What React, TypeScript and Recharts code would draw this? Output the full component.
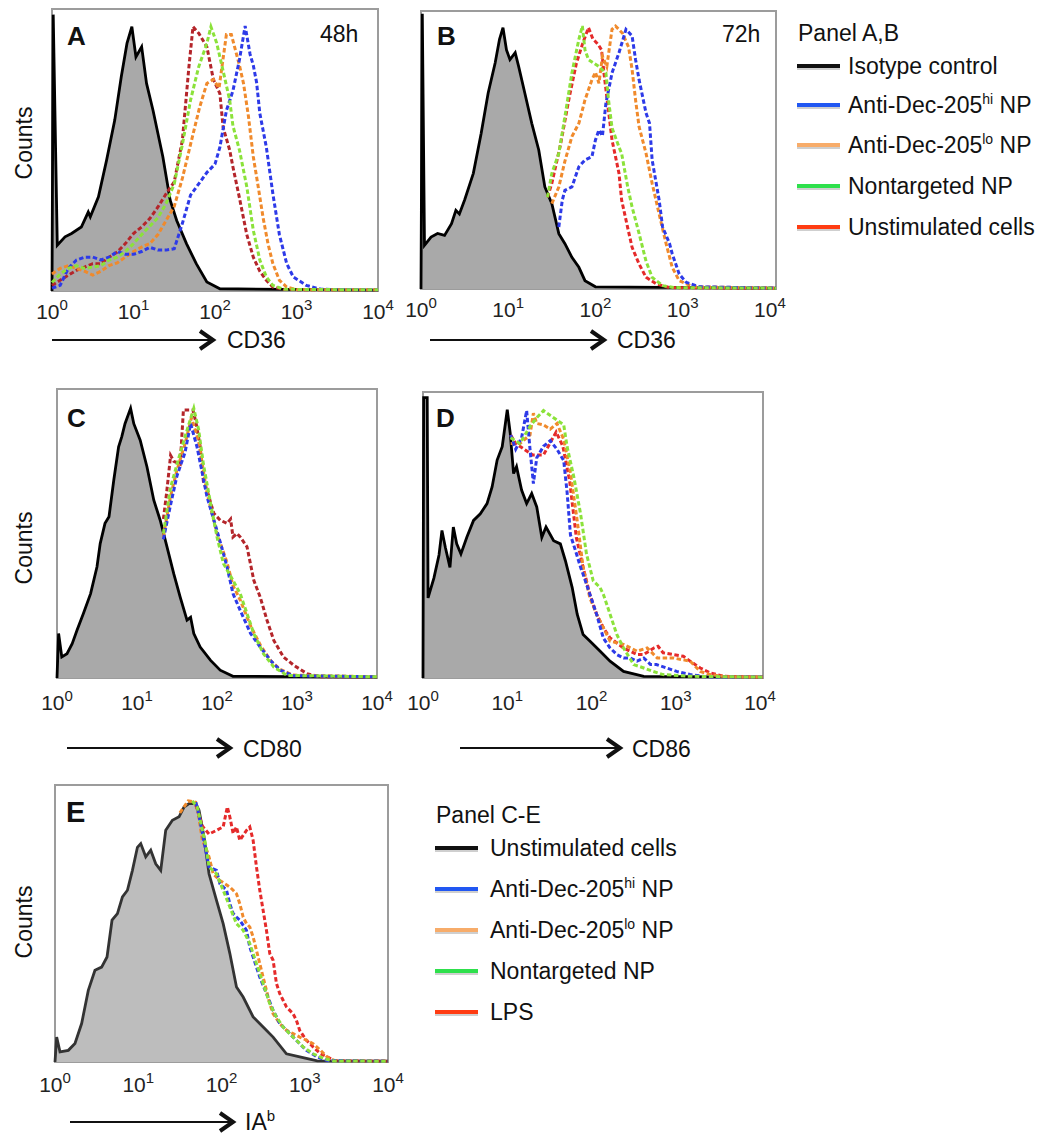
import React from 'react';
import { ComposedChart, Line, Area, XAxis, YAxis, ReferenceArea } from 'recharts';

type Pt = [number, number];

// x = log10 fluorescence, y = relative counts (% of box height)
// ---------- Panel A (CD36, 48h) ----------
const aIsotype: Pt[] = [[0,0],[0.015,98],[0.065,16.2],[0.16,19.2],[0.24,20.4],[0.36,22.7],[0.445,28],[0.47,26.3],[0.57,33.4],[0.67,46.4],[0.77,60.6],[0.85,76],[0.92,87.8],[0.98,93.7],[1.03,83],[1.1,86.6],[1.16,73.6],[1.24,64],[1.36,47.6],[1.45,32.2],[1.53,25],[1.65,16.8],[1.77,9.7],[1.9,3.2],[2.06,0.8],[4,0.3]];
const aHi: Pt[] = [[0,1],[0.1,2],[0.2,8],[0.3,11],[0.4,12],[0.5,12],[0.6,11],[0.7,12],[0.8,14],[0.9,13],[1,13],[1.1,14],[1.2,15.5],[1.3,14.5],[1.4,14.5],[1.5,15],[1.6,24],[1.7,34],[1.8,38],[1.9,42],[2,45],[2.06,51],[2.14,64],[2.22,71],[2.3,82],[2.37,94],[2.43,84],[2.47,80],[2.51,74],[2.55,63],[2.63,51],[2.71,34.5],[2.79,20],[2.88,9.7],[2.96,5],[3.12,2],[3.3,0.6],[4,0.4]];
const aLo: Pt[] = [[0,6],[0.1,8],[0.2,9],[0.3,8],[0.4,7],[0.5,5.6],[0.6,7],[0.7,9],[0.8,10],[0.9,12],[1,14],[1.1,15.6],[1.2,16.8],[1.3,20],[1.4,25],[1.5,30],[1.6,40],[1.7,52],[1.81,65],[1.9,73.6],[1.98,75],[2.05,72],[2.14,91],[2.2,91],[2.3,80],[2.35,73.6],[2.41,62],[2.47,47.6],[2.53,37],[2.59,26],[2.65,16.8],[2.71,9.7],[2.79,3.8],[2.88,1.4],[3,0.5],[4,0.4]];
const aNon: Pt[] = [[0,3],[0.1,6],[0.2,8],[0.3,9],[0.4,8],[0.5,8.5],[0.6,9],[0.7,11],[0.8,12],[0.9,14],[1,16.8],[1.1,20],[1.2,23],[1.3,26],[1.4,31],[1.5,38],[1.6,52],[1.7,67.7],[1.8,79.5],[1.9,87.8],[1.95,93.7],[2.02,88],[2.1,78],[2.18,67.7],[2.22,58.6],[2.3,50],[2.39,37],[2.47,21.5],[2.55,11],[2.63,5],[2.71,2],[2.85,0.6],[4,0.4]];
const aUnstim: Pt[] = [[0,2],[0.1,3.8],[0.2,5.6],[0.3,7.3],[0.4,8.5],[0.5,9.7],[0.6,9.7],[0.7,12],[0.8,13.8],[0.9,16.8],[1,20.4],[1.1,22.7],[1.2,25.7],[1.3,29.8],[1.4,34.5],[1.5,38.7],[1.6,53.5],[1.68,79.5],[1.73,93.7],[1.8,91.4],[1.9,86.6],[1.98,75],[2.06,70],[2.1,58],[2.18,50],[2.22,44],[2.3,33],[2.39,20],[2.47,12],[2.55,7],[2.63,3.8],[2.71,1.4],[2.85,0.5],[4,0.4]];

// ---------- Panel B (CD36, 72h) ----------
const bIsotype: Pt[] = [[0,0],[0.015,99],[0.04,15.7],[0.115,18.7],[0.19,20],[0.27,19.3],[0.35,23.5],[0.4,28.3],[0.44,27],[0.5,32],[0.6,41.6],[0.69,56],[0.77,70.5],[0.85,81.3],[0.9,89.8],[0.94,94],[0.98,86],[1.02,82.5],[1.08,85],[1.12,80],[1.19,70.5],[1.27,59.6],[1.35,50],[1.42,36.7],[1.5,30.7],[1.58,19.9],[1.65,16.3],[1.73,11.4],[1.81,7.8],[1.88,3],[2,0.8],[4.07,0.3]];
const bHi: Pt[] = [[1.58,22.3],[1.62,32],[1.65,35.5],[1.73,36.7],[1.81,44],[1.88,46.4],[1.96,47.6],[2,53.6],[2.04,57.2],[2.08,55],[2.12,66.8],[2.19,77.7],[2.27,85],[2.35,93.4],[2.42,91],[2.46,82.5],[2.5,75.3],[2.58,63.3],[2.62,59.6],[2.65,46.4],[2.73,32],[2.77,22.3],[2.85,16.3],[2.88,12.7],[2.96,5.4],[3.04,2.4],[3.19,0.8],[4.07,0.3]];
const bLo: Pt[] = [[1.5,30.7],[1.58,36.7],[1.65,46],[1.73,54.8],[1.81,59.6],[1.88,68],[1.96,75.3],[2,78],[2.04,74],[2.08,83.7],[2.13,80],[2.19,93.4],[2.23,94.6],[2.31,92],[2.38,87],[2.42,79],[2.46,68],[2.5,58.4],[2.58,48.8],[2.65,38],[2.73,27],[2.81,16.3],[2.88,7.8],[2.96,3],[3.12,0.8],[4.07,0.3]];
const bNon: Pt[] = [[1.45,33],[1.5,41.6],[1.58,48.8],[1.65,62],[1.73,77.7],[1.81,89.8],[1.85,94.6],[1.88,86],[1.92,82.5],[2.04,80],[2.12,77.7],[2.15,68],[2.19,58],[2.27,51],[2.3,48.8],[2.37,36.7],[2.42,29.5],[2.5,20],[2.58,10],[2.65,4.2],[2.77,1.2],[2.9,0.5],[4.07,0.3]];
const bUnstim: Pt[] = [[1.45,33],[1.5,38],[1.6,52],[1.7,69],[1.78,81],[1.85,88],[1.92,94],[1.97,90],[2.03,88],[2.07,86],[2.1,77],[2.15,64],[2.19,53.6],[2.23,47.6],[2.27,41.6],[2.3,32],[2.37,22],[2.42,15],[2.5,9],[2.58,4.2],[2.7,1.8],[2.85,0.5],[4.07,0.3]];

// ---------- Panel C (CD80) ----------
const cIsotype: Pt[] = [[0,0],[0.02,15.4],[0.06,7.3],[0.125,8.4],[0.19,11.9],[0.25,16.5],[0.33,22.3],[0.42,29.2],[0.5,38.5],[0.54,46.5],[0.6,53.5],[0.65,55.8],[0.71,68.5],[0.77,80],[0.81,83.5],[0.85,88],[0.92,93.3],[0.96,88],[1.04,82.3],[1.125,73],[1.21,61.5],[1.29,54.6],[1.375,45.4],[1.46,36],[1.54,28],[1.625,20],[1.67,21],[1.71,15.4],[1.79,10.7],[1.92,6.1],[2.04,2.7],[2.2,0.6],[4,0.3]];
const cHi: Pt[] = [[1.33,48],[1.42,60],[1.5,70],[1.6,78],[1.67,88],[1.75,80],[1.875,62.7],[2,51],[2.125,38.5],[2.2,29.2],[2.29,23.4],[2.42,15.4],[2.54,10.7],[2.67,6],[2.79,2.7],[2.95,0.8],[4,0.4]];
const cLo: Pt[] = [[1.33,49],[1.42,63],[1.5,72],[1.6,81],[1.68,90],[1.77,82],[1.875,64],[2,50],[2.125,40],[2.2,32],[2.29,27],[2.42,18],[2.54,11.5],[2.67,6],[2.79,3],[2.95,1],[4,0.4]];
const cNon: Pt[] = [[1.33,50],[1.42,66],[1.5,74],[1.6,83.5],[1.71,93.3],[1.77,86],[1.83,74],[1.92,60.4],[2,48.8],[2.08,39.6],[2.2,33.8],[2.29,29.2],[2.375,22.3],[2.46,15.4],[2.58,8.4],[2.71,3.8],[2.875,0.9],[4,0.4]];
const cUnstim: Pt[] = [[1.33,55],[1.37,64],[1.42,77],[1.46,75],[1.54,74],[1.58,92.7],[1.7,92.7],[1.74,88],[1.79,80],[1.83,68],[1.875,65],[1.96,57],[2.04,54.6],[2.125,53.5],[2.17,55],[2.2,48.8],[2.25,50],[2.29,48.8],[2.375,45.4],[2.46,33.8],[2.54,28],[2.625,20],[2.71,13],[2.83,7.3],[2.96,4.4],[3.125,1.5],[3.29,0.4],[4,0.4]];

// ---------- Panel D (CD86) ----------
const dIsotype: Pt[] = [[0,0],[0.008,98],[0.05,98],[0.06,28],[0.13,35],[0.19,43],[0.225,51.6],[0.265,45.7],[0.32,38.7],[0.36,52.8],[0.4,46.9],[0.45,43.4],[0.52,49.2],[0.6,55.1],[0.68,57.4],[0.76,61],[0.82,66.8],[0.88,76.2],[0.94,80.9],[1,93.8],[1.035,85.6],[1.075,71.5],[1.11,73.9],[1.17,65.7],[1.23,61],[1.29,64.5],[1.35,59.8],[1.41,49.2],[1.46,52.8],[1.55,48],[1.63,46.9],[1.69,41],[1.77,31.7],[1.83,22.3],[1.9,15.2],[1.98,12.9],[2.1,9.4],[2.22,5.9],[2.38,2.3],[2.62,0.6],[4.035,0.3]];
const dHi: Pt[] = [[1.04,85],[1.1,80],[1.17,84],[1.23,93.5],[1.27,80],[1.31,68],[1.35,77],[1.43,81],[1.51,83],[1.59,80],[1.67,76],[1.71,65],[1.75,50],[1.81,44.5],[1.87,38.7],[1.9,36.3],[1.98,29.3],[2.06,22.3],[2.14,14],[2.22,10.5],[2.3,8.2],[2.38,7],[2.46,7],[2.54,5.9],[2.62,7],[2.7,4.7],[2.77,4.7],[2.89,3.5],[3.01,2.3],[3.17,1.2],[3.37,0.4],[4.035,0.3]];
const dLo: Pt[] = [[1.04,82],[1.15,82],[1.27,85],[1.31,92.6],[1.35,89],[1.43,88.5],[1.51,87],[1.59,89],[1.67,83.4],[1.75,71.7],[1.83,55],[1.9,38.7],[1.98,28],[2.06,22.3],[2.14,17.6],[2.22,12.9],[2.38,11.7],[2.54,9.4],[2.66,10.5],[2.78,7],[2.97,7],[3.17,5.9],[3.29,2.3],[3.41,1.2],[3.6,0.4],[4.035,0.3]];
const dNon: Pt[] = [[1.04,84],[1.15,82],[1.27,88],[1.35,91],[1.43,93.5],[1.55,91],[1.67,88.5],[1.71,80.9],[1.79,70.3],[1.87,57.4],[1.94,43.4],[2.02,34],[2.1,31.7],[2.14,29.3],[2.22,22.3],[2.3,15.2],[2.38,10.5],[2.5,4.7],[2.62,3.5],[2.73,2.3],[2.85,1.2],[3.17,0.6],[4.035,0.3]];
const dUnstim: Pt[] = [[1.04,85],[1.1,82],[1.2,80],[1.3,78],[1.43,78],[1.58,86],[1.66,81],[1.74,69],[1.82,49],[1.9,38.7],[1.98,29.3],[2.06,22.3],[2.14,17.6],[2.22,14],[2.38,10.5],[2.54,8.2],[2.62,8.2],[2.74,10.5],[2.79,11.1],[2.85,8.8],[2.97,8.2],[3.09,7.6],[3.17,5.9],[3.29,3.5],[3.41,1.8],[3.57,0.6],[4.035,0.3]];

// ---------- Panel E (IA^b) ----------
const eIsotype: Pt[] = [[0,0],[0.02,9.4],[0.06,3.8],[0.16,4.4],[0.24,7],[0.32,14.5],[0.4,27],[0.48,34.6],[0.56,35.8],[0.625,39.6],[0.685,53.5],[0.75,56],[0.81,62.3],[0.87,64.8],[0.93,72.3],[0.99,81],[1.03,82.4],[1.09,77.4],[1.15,79.9],[1.21,74.8],[1.27,72.3],[1.33,87.4],[1.41,91.2],[1.49,92.5],[1.55,96.2],[1.61,97.5],[1.69,97.5],[1.73,95],[1.79,85],[1.85,71],[1.94,61],[2.02,52.2],[2.1,41],[2.18,28.3],[2.26,24.5],[2.38,17],[2.5,13.2],[2.62,9.4],[2.78,3.1],[2.94,1.9],[3.15,0.4],[4,0.3]];
const eHi: Pt[] = [[1.69,98],[1.71,96],[1.81,80],[1.85,73.6],[1.94,72.3],[1.98,67.3],[2.06,64.8],[2.1,59.7],[2.14,56],[2.18,54.7],[2.22,53.5],[2.3,49.7],[2.34,43.4],[2.38,39.6],[2.46,32],[2.54,25.8],[2.62,19.5],[2.7,14.5],[2.78,12],[2.86,9.4],[2.94,6.9],[3.02,4.4],[3.15,1.9],[3.27,0.6],[4,0.3]];
const eLo: Pt[] = [[1.5,94],[1.6,98.5],[1.69,98],[1.71,96],[1.77,83.6],[1.81,81],[1.85,77.4],[1.9,71],[1.98,68.5],[2.1,66],[2.14,64.8],[2.18,63.5],[2.22,59.7],[2.26,54.7],[2.3,52.2],[2.34,50.9],[2.38,47.2],[2.42,42.1],[2.46,37.1],[2.5,32],[2.54,27],[2.58,22],[2.62,18.2],[2.7,14.5],[2.78,12],[2.86,10.7],[2.94,9.4],[3.02,8.2],[3.1,6.9],[3.19,4.4],[3.27,1.9],[3.35,0.6],[4,0.3]];
const eNon: Pt[] = [[1.65,98.5],[1.71,96],[1.81,82],[1.85,73.6],[1.94,71],[2.02,64.8],[2.1,58.5],[2.18,52.2],[2.26,49.7],[2.34,44.7],[2.42,37.1],[2.5,29.6],[2.58,22],[2.66,17],[2.74,13.2],[2.86,9.4],[2.98,5.7],[3.1,3.1],[3.23,1.3],[3.35,0.4],[4,0.3]];
const eLps: Pt[] = [[1.69,97],[1.73,93],[1.77,89],[1.85,86],[1.94,87.4],[2.02,88.7],[2.07,96.2],[2.1,92.5],[2.14,86.2],[2.18,88.7],[2.22,83.6],[2.3,87.4],[2.34,88.7],[2.38,83.6],[2.42,73.6],[2.46,64.8],[2.5,57.2],[2.54,49.7],[2.58,40.9],[2.62,38.4],[2.66,29.6],[2.7,25.8],[2.74,23.3],[2.78,20.8],[2.86,18.2],[2.9,15.7],[2.94,11.9],[3.02,8.2],[3.1,5.7],[3.19,3.1],[3.27,1.9],[3.35,0.6],[4,0.3]];

const decadeTicks = [0, 1, 2, 3, 4];
const legendAB = ['Isotype control', 'Anti-Dec-205|hi| NP', 'Anti-Dec-205|lo| NP', 'Nontargeted NP', 'Unstimulated cells'];
const legendCE = ['Unstimulated cells', 'Anti-Dec-205|hi| NP', 'Anti-Dec-205|lo| NP', 'Nontargeted NP', 'LPS'];
const legendColors = ['#111111', '#2157f2', '#f7ac6a', '#2ee04c', '#ff3c12'];

const FONT = "'Liberation Sans', Arial, Helvetica, sans-serif";
const BLUE = '#2d3ae8';
const ORANGE = '#f08a2c';
const GREEN = '#8be23a';
const DARKRED = '#b4252a';
const RED = '#e52a2a';

function buildRows(series: Record<string, Pt[]>) {
  const xs = new Set<number>();
  Object.values(series).forEach((s) => s.forEach((p) => xs.add(p[0])));
  const sorted = Array.from(xs).sort((a, b) => a - b);
  const maps: Record<string, Map<number, number>> = {};
  Object.entries(series).forEach(([k, s]) => {
    maps[k] = new Map(s.map((p) => [p[0], p[1]] as [number, number]));
  });
  return sorted.map((x) => {
    const row: Record<string, number | null> = { x };
    Object.keys(maps).forEach((k) => {
      const v = maps[k].get(x);
      row[k] = v === undefined ? null : v;
    });
    return row;
  });
}

const PowerTick = (props: any) => {
  const { x, y, payload, dyv } = props;
  return (
    <text x={x} y={y + dyv} textAnchor="middle" fill="#222" style={{ fontSize: 21, fontFamily: FONT }}>
      10<tspan dy={-9} style={{ fontSize: 15 }}>{payload.value}</tspan>
    </text>
  );
};

type PanelProps = {
  id: string;
  left: number; top: number; width: number; height: number;
  xMax: number; yMax: number; tickDy: number;
  iso: Pt[]; hi: Pt[]; lo: Pt[]; non: Pt[]; red: Pt[];
  redColor: string; isoStroke: string; isoFill: string; isoFirst: boolean;
};

function Panel(p: PanelProps) {
  const ml = 30, mr = 30, mt = 4, xh = 45;
  const rows = buildRows({ iso: p.iso, hi: p.hi, lo: p.lo, non: p.non, red: p.red });
  const area = (
    <Area key="iso" type="linear" dataKey="iso" stroke={p.isoStroke} strokeWidth={2.8} fill={p.isoFill} fillOpacity={1}
      connectNulls dot={false} activeDot={false} isAnimationActive={false} />
  );
  const dash = '4.5 2.5';
  const lines = [
    <Line key="red" type="linear" dataKey="red" stroke={p.redColor} strokeWidth={3} strokeDasharray={dash} connectNulls dot={false} activeDot={false} isAnimationActive={false} />,
    <Line key="lo" type="linear" dataKey="lo" stroke={ORANGE} strokeWidth={3} strokeDasharray={dash} connectNulls dot={false} activeDot={false} isAnimationActive={false} />,
    <Line key="hi" type="linear" dataKey="hi" stroke={BLUE} strokeWidth={3} strokeDasharray={dash} connectNulls dot={false} activeDot={false} isAnimationActive={false} />,
    <Line key="non" type="linear" dataKey="non" stroke={GREEN} strokeWidth={3} strokeDasharray={dash} connectNulls dot={false} activeDot={false} isAnimationActive={false} />,
  ];
  return (
    <div style={{ position: 'absolute', left: p.left - ml, top: p.top - mt }}>
      <ComposedChart id={p.id} width={p.width + ml + mr} height={p.height + mt + xh} data={rows}
        margin={{ top: mt, right: mr, bottom: 0, left: ml }}>
        <XAxis dataKey="x" type="number" domain={[0, p.xMax]} ticks={decadeTicks} interval={0}
          tick={(tp: any) => <PowerTick {...tp} dyv={p.tickDy} />} tickSize={0} tickMargin={0}
          axisLine={false} tickLine={false} height={xh} />
        <YAxis type="number" hide domain={[0, p.yMax]} />
        <ReferenceArea x1={0} x2={p.xMax} y1={0} y2={p.yMax} fill="none" stroke="#9c9c9c" strokeWidth={2} ifOverflow="visible" />
        {p.isoFirst ? area : null}
        {lines}
        {p.isoFirst ? null : area}
      </ComposedChart>
    </div>
  );
}

function Arrow({ x1, x2, y }: { x1: number; x2: number; y: number }) {
  return (
    <g>
      <line x1={x1} y1={y} x2={x2 - 2} y2={y} stroke="#111" strokeWidth={2} />
      <polyline points={`${x2 - 13},${y - 9} ${x2},${y} ${x2 - 13},${y + 9}`} fill="none" stroke="#111" strokeWidth={4} strokeLinejoin="miter" />
    </g>
  );
}

function LegendLabel({ x, y, label }: { x: number; y: number; label: string }) {
  const parts = label.split('|');
  if (parts.length === 1) {
    return <text x={x} y={y} fontSize={23} fill="#111" fontFamily={FONT}>{label}</text>;
  }
  return (
    <text x={x} y={y} fontSize={23} fill="#111" fontFamily={FONT}>
      {parts[0]}<tspan dy={-9} fontSize={14}>{parts[1]}</tspan><tspan dy={9}>{parts[2]}</tspan>
    </text>
  );
}

function Legend({ x, titleY, title, rowsY, labels, textX }: { x: number; titleY: number; title: string; rowsY: number[]; labels: string[]; textX: number }) {
  return (
    <g>
      <text x={x + 1} y={titleY} fontSize={23} fill="#111" fontFamily={FONT}>{title}</text>
      {labels.map((lab, i) => (
        <g key={lab + i}>
          <line x1={x} x2={x + 43} y1={rowsY[i] + 2.5} y2={rowsY[i] + 2.5} stroke="#cfcfcf" strokeWidth={3} />
          <line x1={x} x2={x + 43} y1={rowsY[i]} y2={rowsY[i]} stroke={legendColors[i]} strokeWidth={4} />
          <LegendLabel x={textX} y={rowsY[i] + 8} label={lab} />
        </g>
      ))}
    </g>
  );
}

export default function App() {
  return (
    <div style={{ position: 'absolute', left: 0, top: 0, width: 1044, height: 1136, background: '#fff', fontFamily: FONT }}>
      <Panel id="panelA" left={52} top={9} width={326} height={282} xMax={4} yMax={100} tickDy={28}
        iso={aIsotype} hi={aHi} lo={aLo} non={aNon} red={aUnstim} redColor={DARKRED}
        isoStroke="#000" isoFill="#a9a9a9" isoFirst={true} />
      <Panel id="panelB" left={421} top={11} width={355} height={278} xMax={4.07} yMax={100} tickDy={28}
        iso={bIsotype} hi={bHi} lo={bLo} non={bNon} red={bUnstim} redColor={RED}
        isoStroke="#000" isoFill="#a9a9a9" isoFirst={false} />
      <Panel id="panelC" left={57} top={389} width={320} height={289} xMax={4} yMax={100} tickDy={32}
        iso={cIsotype} hi={cHi} lo={cLo} non={cNon} red={cUnstim} redColor={DARKRED}
        isoStroke="#000" isoFill="#a9a9a9" isoFirst={false} />
      <Panel id="panelD" left={423} top={392} width={340} height={286} xMax={4.035} yMax={100} tickDy={32}
        iso={dIsotype} hi={dHi} lo={dLo} non={dNon} red={dUnstim} redColor={RED}
        isoStroke="#000" isoFill="#a9a9a9" isoFirst={true} />
      <Panel id="panelE" left={55} top={785} width={333} height={277} xMax={4} yMax={104.5} tickDy={30}
        iso={eIsotype} hi={eHi} lo={eLo} non={eNon} red={eLps} redColor={RED}
        isoStroke="#333" isoFill="#bdbdbd" isoFirst={false} />

      <svg width={1044} height={1136} style={{ position: 'absolute', left: 0, top: 0, pointerEvents: 'none' }}>
        <g fontFamily={FONT} fill="#111">
          <text transform="translate(24,143) rotate(-90)" textAnchor="middle" dominantBaseline="central" fontSize={23}>Counts</text>
          <text transform="translate(24,548) rotate(-90)" textAnchor="middle" dominantBaseline="central" fontSize={23}>Counts</text>
          <text transform="translate(24,922) rotate(-90)" textAnchor="middle" dominantBaseline="central" fontSize={23}>Counts</text>

          <text x={67} y={45} fontSize={26} fontWeight="bold">A</text>
          <text x={437} y={45} fontSize={26} fontWeight="bold">B</text>
          <text x={67} y={427} fontSize={26} fontWeight="bold">C</text>
          <text x={436} y={427} fontSize={26} fontWeight="bold">D</text>
          <text x={66} y={822} fontSize={29} fontWeight="bold">E</text>

          <text x={320} y={42} fontSize={23}>48h</text>
          <text x={722} y={42} fontSize={23}>72h</text>

          <Arrow x1={52} x2={213} y={340} />
          <text x={227} y={340} fontSize={23} dominantBaseline="central">CD36</text>
          <Arrow x1={430} x2={604} y={340} />
          <text x={617} y={340} fontSize={23} dominantBaseline="central">CD36</text>
          <Arrow x1={67} x2={230} y={748} />
          <text x={243} y={749} fontSize={23} dominantBaseline="central">CD80</text>
          <Arrow x1={460} x2={620} y={748} />
          <text x={632} y={749} fontSize={23} dominantBaseline="central">CD86</text>
          <Arrow x1={70} x2={233} y={1122} />
          <text x={245} y={1130} fontSize={23}>IA<tspan dy={-9} fontSize={15}>b</tspan></text>
        </g>
        <Legend x={797} titleY={41} title="Panel A,B" rowsY={[66, 105, 145, 186, 227]} labels={legendAB} textX={848} />
        <Legend x={435} titleY={823} title="Panel C-E" rowsY={[848, 889, 930, 971, 1012]} labels={legendCE} textX={490} />
      </svg>
    </div>
  );
}
